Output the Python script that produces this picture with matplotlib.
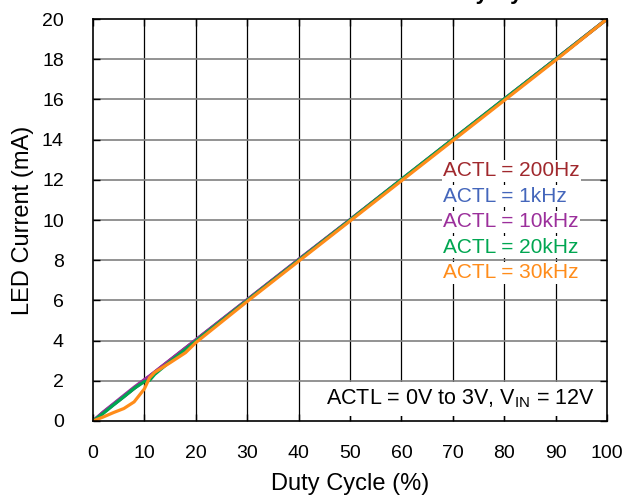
import matplotlib
matplotlib.use('Agg')
import matplotlib.pyplot as plt

plt.rcParams['font.family'] = ['Liberation Sans', 'DejaVu Sans']

## Data
duty = [0, 2, 4, 6, 8, 10, 11, 12, 15, 18, 20, 30, 40, 50, 60, 70, 80, 90, 100]
led_200hz = [0, 0.42, 0.82, 1.22, 1.62, 2.02, 2.22, 2.42, 3.02, 3.62, 4.02, 6.02, 8.02, 10.0, 12.0, 14.0, 16.0, 18.0, 20.0]
led_1khz = [0, 0.43, 0.83, 1.23, 1.63, 2.03, 2.22, 2.42, 3.02, 3.62, 4.02, 6.02, 8.02, 10.0, 12.0, 14.0, 16.0, 18.0, 20.0]
led_10khz = [0, 0.45, 0.86, 1.27, 1.68, 2.06, 2.24, 2.44, 3.04, 3.64, 4.04, 6.04, 8.04, 10.02, 12.02, 14.02, 16.02, 18.0, 20.0]
led_20khz = [0, 0.38, 0.8, 1.2, 1.62, 1.96, 2.02, 2.32, 2.96, 3.56, 3.98, 6.0, 8.0, 10.0, 12.02, 14.02, 16.02, 18.0, 20.0]
led_30khz = [0, 0.2, 0.42, 0.62, 0.95, 1.6, 2.15, 2.42, 2.9, 3.4, 3.9, 5.95, 7.95, 9.95, 11.95, 13.95, 15.95, 17.95, 20.0]

labels = ['ACTL = 200Hz', 'ACTL = 1kHz', 'ACTL = 10kHz', 'ACTL = 20kHz', 'ACTL = 30kHz']
colors = ['#A0282D', '#4466BB', '#9B2F9B', '#00A651', '#FF8C1A']
series = [led_200hz, led_1khz, led_10khz, led_20khz, led_30khz]

fig = plt.figure(figsize=(6.25, 5.01), dpi=100)
ax = fig.add_axes([0.1488, 0.1597, 0.8224, 0.8023])

for vals, c in zip(series, colors):
    ax.plot(duty, vals, color=c, lw=2.3, solid_capstyle='round')

ax.set_xlim(0, 100)
ax.set_ylim(0, 20)
ax.set_xticks(range(0, 101, 10))
ax.set_yticks(range(0, 21, 2))
ax.tick_params(direction='in', length=5, width=1, top=True, right=True, labelsize=14)
ax.tick_params(axis='y', pad=21)
ax.tick_params(axis='x', pad=17)
for x in range(10, 100, 10):
    ax.axvline(x, color='black', lw=0.9, zorder=0.5)
for y in range(2, 20, 2):
    ax.axhline(y, color='#808080', lw=1.2, zorder=0.5)
for s in ax.spines.values():
    s.set_linewidth(1.2)

ax.set_xlabel('Duty Cycle (%)', fontsize=17, labelpad=8)
ax.set_ylabel('LED Current (mA)', fontsize=17, labelpad=6)

# series labels with white backgrounds
y0 = 12.44
for i, (lab, c) in enumerate(zip(labels, colors)):
    ax.text(68.1, y0 - i * 1.265, lab, color=c, fontsize=15, va='center', ha='left',
            bbox=dict(facecolor='white', edgecolor='none', pad=1), zorder=3)

ax.text(97.6, 1.09, 'ACTL = 0V to 3V, V$_{\\mathregular{IN}}$ = 12V', fontsize=15.5,
        ha='right', va='center', zorder=3,
        bbox=dict(facecolor='white', edgecolor='none', pad=4))

# title mostly cut off at the top of the image
fig.text(0.654, 1.001, 'LED Current vs. Duty Cycle', fontsize=16, fontweight='bold',
         ha='center', va='baseline')

fig.savefig('out.png', dpi=100)
plt.close('all')
